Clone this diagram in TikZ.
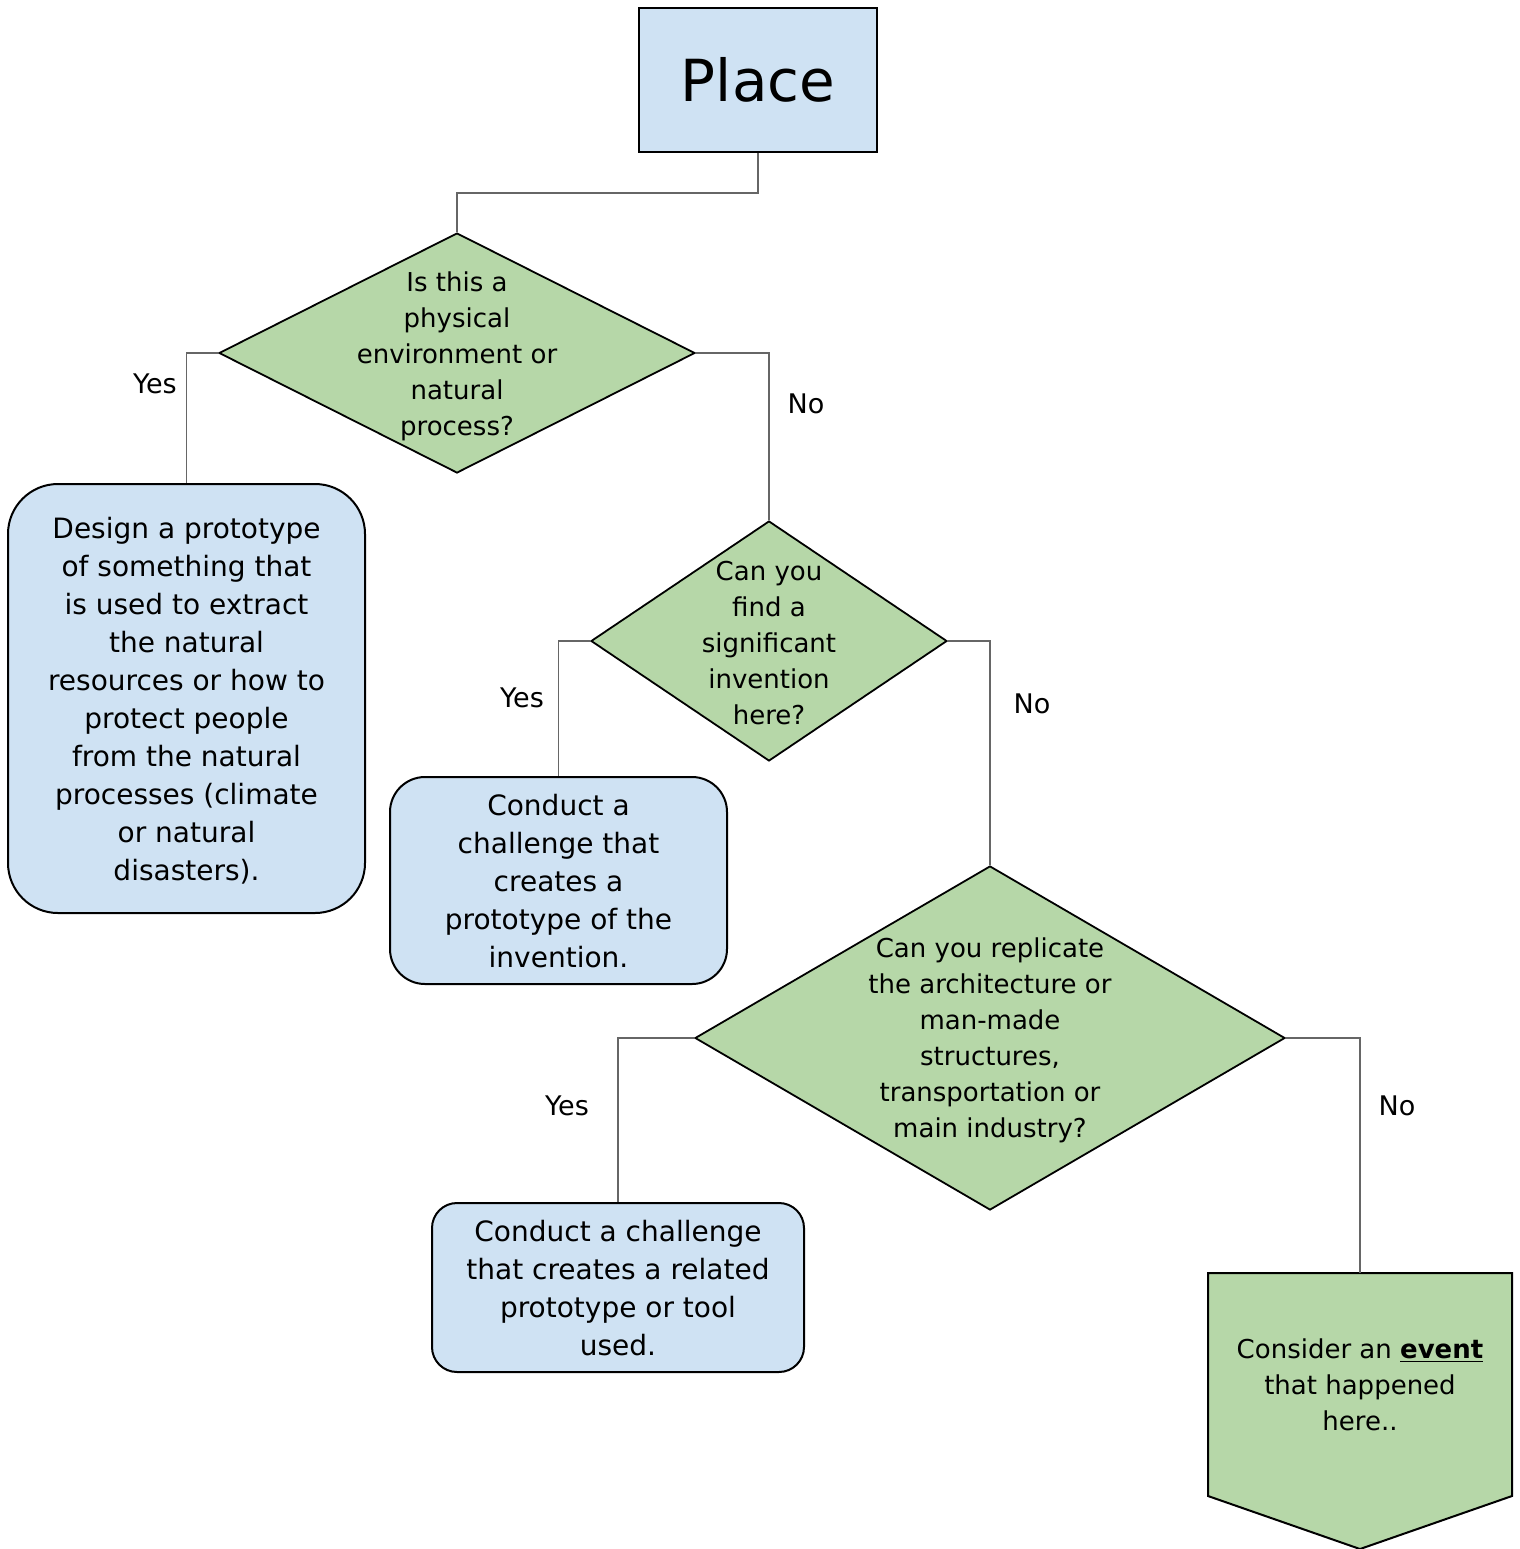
\documentclass[tikz,border=0pt]{standalone}
\usepackage{fontspec}
\setmainfont{DejaVu Sans}
\usetikzlibrary{shapes.geometric}
\definecolor{boxblue}{HTML}{CFE2F3}
\definecolor{diagreen}{HTML}{B6D7A8}
\definecolor{conngray}{HTML}{666666}
\tikzset{
  blueshape/.style={draw=black, line width=1pt, fill=boxblue, inner sep=0pt},
  diashape/.style={draw=black, line width=0.9pt, fill=diagreen, diamond, inner sep=0pt},
  qtext/.style={align=center, font=\fontsize{13}{18}\selectfont, inner sep=0pt},
  btext/.style={align=center, font=\fontsize{14}{19}\selectfont, inner sep=0pt},
  lbl/.style={font=\fontsize{13.5}{16}\selectfont, inner sep=0pt},
  conn/.style={draw=conngray, line width=0.8pt}
}
\begin{document}
\begin{tikzpicture}[x=0.5pt,y=-0.5pt]
\useasboundingbox (0,0) rectangle (1520,1549);
% Place
\node[blueshape, minimum width=119pt, minimum height=72pt, font=\fontsize{29}{32}\selectfont] (pl) at (758,80) {Place};
% diamonds
\node[diashape, minimum width=238pt, minimum height=120pt] (d1) at (457,353) {};
\node[qtext] (t1) at (457,356) {Is this a\\physical\\environment or\\natural\\process?};
\node[diashape, minimum width=178pt, minimum height=120pt] (d2) at (769,641) {};
\node[qtext] (t2) at (769,643) {Can you\\find a\\significant\\invention\\here?};
\node[diashape, minimum width=295pt, minimum height=172pt] (d3) at (990,1038) {};
\node[qtext] (t3) at (990,1040) {Can you replicate\\the architecture or\\man-made\\structures,\\transportation or\\main industry?};
% boxes
\node[blueshape, rounded corners=25pt, minimum width=178.5pt, minimum height=214.5pt] (b1) at (186.5,698.5) {};
\node[btext] (bt1) at (186.5,701) {Design a prototype\\of something that\\is used to extract\\the natural\\resources or how to\\protect people\\from the natural\\processes (climate\\or natural\\disasters).};
\node[blueshape, rounded corners=17.5pt, minimum width=168.5pt, minimum height=103.5pt] (b2) at (558.5,880.5) {};
\node[btext] (bt2) at (558.5,881) {Conduct a\\challenge that\\creates a\\prototype of the\\invention.};
\node[blueshape, rounded corners=12.5pt, minimum width=186pt, minimum height=84.5pt] (b3) at (618,1287.5) {};
\node[btext] (bt3) at (618,1288) {Conduct a challenge\\that creates a related\\prototype or tool\\used.};
% pentagon (event)
\coordinate (ev) at (1360,1273);
\draw[line width=1pt, fill=diagreen] (1208,1273) -- (1512,1273) -- (1512,1496) -- (1360,1549) -- (1208,1496) -- cycle;
\node[qtext] (evt) at (1360,1385) {Consider an \underline{\textbf{event}}\\that happened\\here..};
% connectors
\draw[conn] (pl.south) -- (pl.south |- 0,193) -| (d1.north);
\draw[conn] (d1.west) -| (b1.north);
\draw[conn] (d1.east) -| (d2.north);
\draw[conn] (d2.west) -| (b2.north);
\draw[conn] (d2.east) -| (d3.north);
\draw[conn] (d3.west) -| (b3.north);
\draw[conn] (d3.east) -| (ev);
% labels
\node[lbl] (y1) at (155,384) {Yes};
\node[lbl] (n1) at (806,404) {No};
\node[lbl] (y2) at (522,698) {Yes};
\node[lbl] (n2) at (1032,704) {No};
\node[lbl] (y3) at (567,1106) {Yes};
\node[lbl] (n3) at (1397,1106) {No};
\end{tikzpicture}
\end{document}
